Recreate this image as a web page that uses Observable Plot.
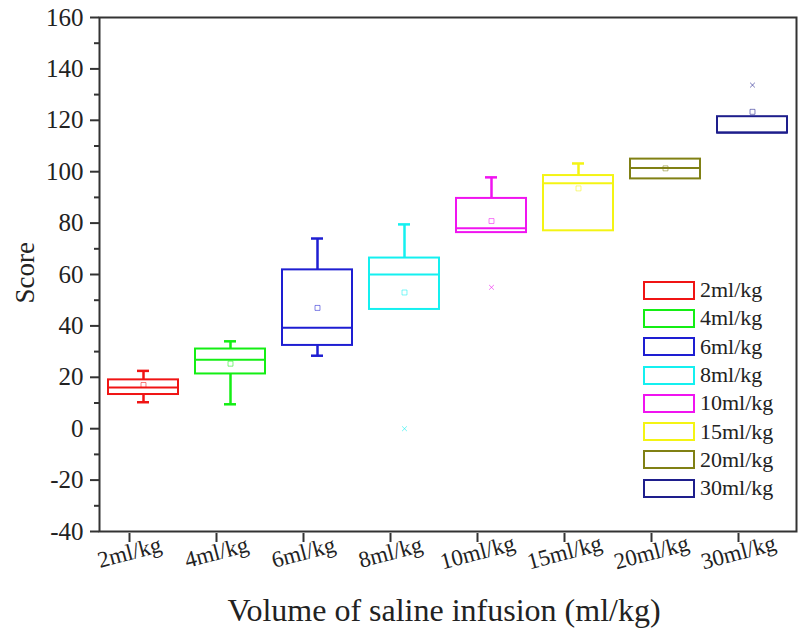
<!DOCTYPE html>
<html>
<head>
<meta charset="utf-8">
<script src="https://cdn.jsdelivr.net/npm/d3@7"></script>
<script src="https://cdn.jsdelivr.net/npm/@observablehq/plot@0.6"></script>
<style>
  html, body { margin: 0; padding: 0; background: #fff; }
  #wrap { position: relative; width: 798px; height: 639px; }
  #legend { position: absolute; left: 643px; top: 276px; font-family: "Liberation Serif", "Times New Roman", serif; font-size: 22px; color: #222; }
  .row { display: flex; align-items: center; height: 28.3px; }
  .sw { width: 48px; height: 15px; border: 2px solid; margin-right: 5px; box-sizing: content-box; }
</style>
</head>
<body>
<div id="wrap"></div>
<script>
const categories = ["2ml/kg","4ml/kg","6ml/kg","8ml/kg","10ml/kg","15ml/kg","20ml/kg","30ml/kg"];
const colors = ["#f01414","#14ee14","#1e1ed2","#14f0f0","#f014f0","#f4f414","#808014","#1e1e8c"];
const whiskerLow  = [10.3, 9.5, 28.4, 46.4, 76.3, 77.0, 97.2, 115.0];
const q1          = [13.3, 21.3, 32.4, 46.4, 76.3, 77.0, 97.2, 115.0];
const median      = [16.0, 26.8, 39.3, 60.0, 78.0, 95.5, 101.4, 115.3];
const q3          = [19.0, 31.0, 61.8, 66.4, 89.6, 98.5, 104.9, 121.4];
const whiskerHigh = [22.5, 34.0, 74.0, 79.5, 97.8, 103.2, 104.9, 121.4];
const means       = [17.0, 25.3, 47.0, 53.0, 80.8, 93.5, 101.3, 123.3];
const outlierCats = ["8ml/kg","10ml/kg","30ml/kg"];
const outlierVals = [0, 55, 133.7];
const yTicks = [-40,-20,0,20,40,60,80,100,120,140,160];
const yMinorTicks = [-30,-10,10,30,50,70,90,110,130,150];

const font = '"Liberation Serif", "Times New Roman", serif';
const boxes = categories.map((c, i) => ({
  cat: c, color: colors[i], lo: whiskerLow[i], q1: q1[i], med: median[i],
  q3: q3[i], hi: whiskerHigh[i], mean: means[i]
}));
const outliers = outlierCats.map((c, i) => ({cat: c, v: outlierVals[i], color: colors[categories.indexOf(c)]}));

const chart = Plot.plot({
  width: 798, height: 639,
  marginLeft: 99, marginRight: 2, marginTop: 17, marginBottom: 108,
  style: {fontFamily: font, color: "#222", background: "#fff"},
  x: {type: "band", domain: categories, paddingInner: 0.2, paddingOuter: 0.1, label: null},
  y: {domain: [-40, 160], label: null},
  color: {type: "identity"},
  marks: [
    // whiskers
    Plot.ruleX(boxes, {x: "cat", y1: "q3", y2: "hi", stroke: "color", strokeWidth: 2.5}),
    Plot.ruleX(boxes, {x: "cat", y1: "lo", y2: "q1", stroke: "color", strokeWidth: 2.5}),
    Plot.tickY(boxes.filter(d => d.hi > d.q3), {x: "cat", y: "hi", stroke: "color", strokeWidth: 2.5, insetLeft: 29, insetRight: 29}),
    Plot.tickY(boxes.filter(d => d.lo < d.q1), {x: "cat", y: "lo", stroke: "color", strokeWidth: 2.5, insetLeft: 29, insetRight: 29}),
    // boxes
    Plot.barY(boxes, {x: "cat", y1: "q1", y2: "q3", fill: "none", stroke: "color", strokeWidth: 2}),
    Plot.tickY(boxes, {x: "cat", y: "med", stroke: "color", strokeWidth: 2}),
    // means
    Plot.dot(boxes, {x: "cat", y: "mean", symbol: "square", r: 2.8, stroke: "color", strokeOpacity: 0.55, strokeWidth: 1}),
    // outliers
    Plot.dot(outliers, {x: "cat", y: "v", symbol: "times", r: 2.3, stroke: "color", strokeOpacity: 0.6, strokeWidth: 1}),
    // frame
    Plot.frame({stroke: "#333", strokeWidth: 2}),
    // axes
    Plot.axisY({ticks: yTicks, tickFormat: d => `${d}`, tickSize: 9, tickPadding: 7, fontSize: 25, stroke: "#333", strokeWidth: 2, label: null}),
    Plot.axisY({ticks: yMinorTicks, tickSize: 5, tickFormat: () => "", stroke: "#333", strokeWidth: 2, label: null}),
    Plot.axisX({tickSize: 9, tickPadding: 10, tickRotate: -15, textAnchor: "middle", lineAnchor: "middle", dx: -14, dy: 2, fontSize: 23, stroke: "#333", strokeWidth: 2, label: null}),
    // axis titles
    Plot.text(["Score"], {frameAnchor: "left", dx: -74, dy: 29, rotate: -90, fontSize: 27, fill: "#222"}),
    Plot.text(["Volume of saline infusion (ml/kg)"], {frameAnchor: "bottom", dy: 79, dx: -4, fontSize: 32, fill: "#222", lineAnchor: "middle"})
  ]
});

const wrap = document.getElementById("wrap");
wrap.appendChild(chart);
const legend = document.createElement("div");
legend.id = "legend";
categories.forEach((c, i) => {
  const row = document.createElement("div");
  row.className = "row";
  const sw = document.createElement("div");
  sw.className = "sw";
  sw.style.borderColor = colors[i];
  const t = document.createElement("span");
  t.textContent = c;
  row.appendChild(sw);
  row.appendChild(t);
  legend.appendChild(row);
});
wrap.appendChild(legend);
</script>
</body>
</html>
